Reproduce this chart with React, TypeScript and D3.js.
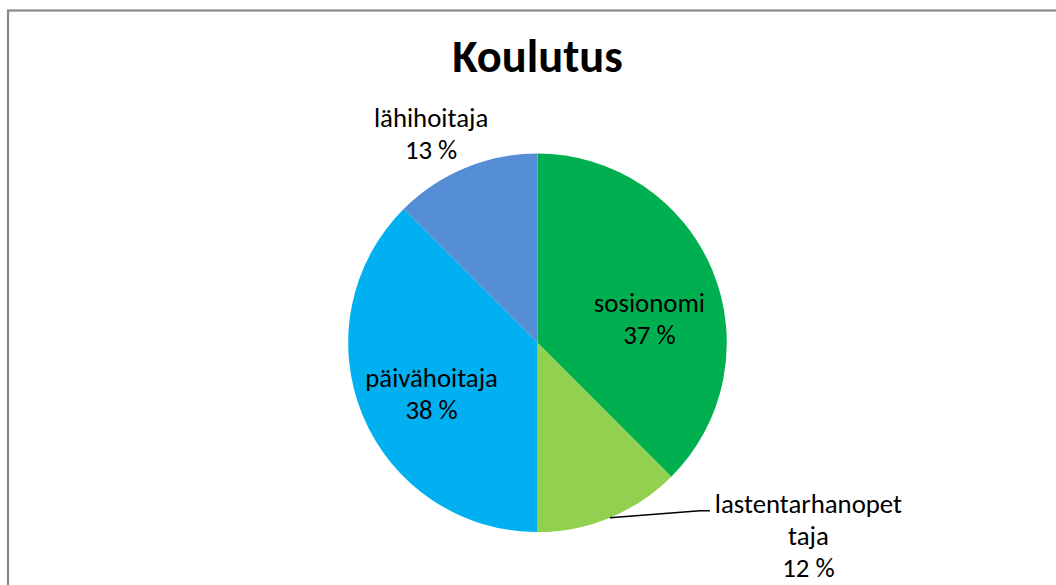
import React, { useEffect, useRef } from 'react';
import * as d3 from 'd3';

// Koulutus: share of staff by education
const categories = ['sosionomi', 'lastentarhanopettaja', 'päivähoitaja', 'lähihoitaja'];
const shares = [37.5, 12.5, 37.5, 12.5];
const percentLabels = ['37 %', '12 %', '38 %', '13 %'];
const sliceColors = ['#00B050', '#92D050', '#00B0F0', '#558ED5'];

const title = 'Koulutus';

// label placement, like dragged Excel data labels: offset from the slice anchor
const labelNudge: [number, number][] = [
  [7, 13],
  [0, 0],
  [-1, 1],
  [-34, -41],
];

const W = 1056;
const H = 585;
const FONT = 'Calibri, Carlito, Lato, sans-serif';

function wrap(text: string, maxChars: number) {
  const lines: string[] = [];
  for (let i = 0; i < text.length; i += maxChars) lines.push(text.slice(i, i + maxChars));
  return lines;
}

export default function App() {
  const ref = useRef<SVGSVGElement>(null);

  useEffect(() => {
    const svg = d3.select(ref.current);
    svg.selectAll('*').remove();

    // chart area frame (runs off the right and bottom of the picture)
    svg.append('rect')
      .attr('x', 8)
      .attr('y', 10.5)
      .attr('width', W)
      .attr('height', H)
      .attr('fill', '#fff')
      .attr('stroke', '#878787')
      .attr('stroke-width', 2.2);

    svg.append('text')
      .attr('x', 537.5)
      .attr('y', 72)
      .attr('text-anchor', 'middle')
      .attr('font-family', FONT)
      .attr('font-weight', 'bold')
      .attr('font-size', 46.5)
      .attr('fill', '#000')
      .text(title);

    const cx = 537.5;
    const cy = 342.8;
    const radius = 189.3;

    const pie = d3.pie<number>().sort(null).value(d => d);
    const arcs = pie(shares);
    const arc = d3.arc<d3.PieArcDatum<number>>().innerRadius(0).outerRadius(radius);

    const g = svg.append('g').attr('transform', `translate(${cx},${cy})`);

    g.selectAll('path')
      .data(arcs)
      .join('path')
      .attr('d', arc)
      .attr('fill', (_, i) => sliceColors[i]);

    const lineH = 32;
    const insideArc = d3.arc<d3.PieArcDatum<number>>().innerRadius(radius * 0.6).outerRadius(radius * 0.6);
    const edgeArc = d3.arc<d3.PieArcDatum<number>>().innerRadius(radius).outerRadius(radius);

    arcs.forEach((a, i) => {
      const span = a.endAngle - a.startAngle;
      const small = span < Math.PI / 3;
      const lines = [...wrap(categories[i], 16), percentLabels[i]];
      let x: number;
      let y: number;

      if (!small) {
        const [px, py] = insideArc.centroid(a);
        x = px + labelNudge[i][0];
        y = py + labelNudge[i][1];
      } else if (i === 1) {
        // label pulled out to the right with a leader line
        const [ex, ey] = edgeArc.centroid(a);
        const bx = ex + 90;
        const by = ey - 7;
        g.append('path')
          .attr('d', d3.line()([[ex, ey], [bx, by], [bx + 10, by]]))
          .attr('fill', 'none')
          .attr('stroke', '#000')
          .attr('stroke-width', 1.5);
        x = bx + 108.5;
        y = by + 2.5;
      } else {
        const [ex, ey] = edgeArc.centroid(a);
        x = ex + labelNudge[i][0];
        y = ey + labelNudge[i][1];
      }

      const t = g.append('text')
        .attr('text-anchor', 'middle')
        .attr('font-family', FONT)
        .attr('font-size', 26.8)
        .attr('fill', '#000');
      lines.forEach((ln, k) => {
        t.append('tspan').attr('x', x).attr('y', y + k * lineH).text(ln);
      });
    });
  }, []);

  return (
    <svg
      ref={ref}
      width={W}
      height={H}
      style={{ position: 'absolute', left: 0, top: 0, background: '#fff' }}
    />
  );
}
